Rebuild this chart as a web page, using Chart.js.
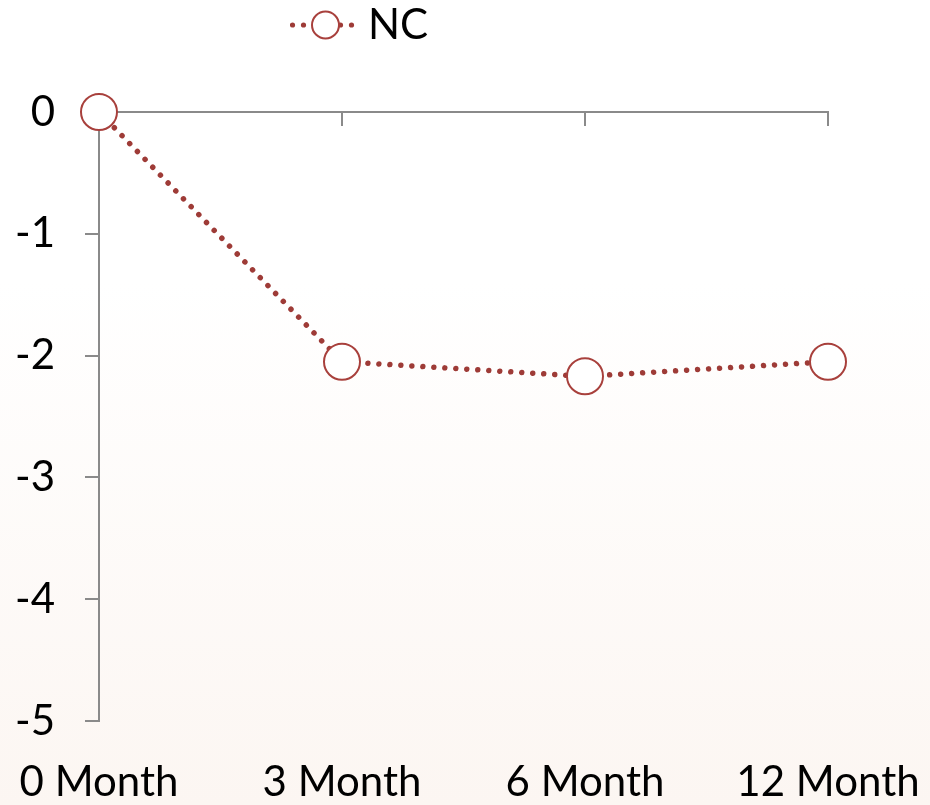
<!DOCTYPE html>
<html>
<head>
<meta charset="utf-8">
<script src="https://cdn.jsdelivr.net/npm/chart.js@4/dist/chart.umd.min.js"></script>
<style>
  html, body { margin: 0; padding: 0; background: #ffffff; }
  #wrap { width: 930px; height: 805px; position: relative; }
</style>
</head>
<body>
<div id="wrap"><canvas id="c" width="930" height="805"></canvas></div>
<script>
const categories = ['0 Month', '3 Month', '6 Month', '12 Month'];
const seriesName = 'NC';
const ncValues = [0, -2.05, -2.17, -2.05];
const yTicks = [0, -1, -2, -3, -4, -5];

const lineColor = '#9e3b37';
const markerColor = '#a8403c';
const axisColor = '#8a8a8a';

// legend symbol: dotted line with open circle
const legendImg = document.createElement('canvas');
legendImg.width = 66; legendImg.height = 32;
(function () {
  const g = legendImg.getContext('2d');
  g.fillStyle = lineColor;
  [2.5, 13.5, 50.5, 61.5].forEach(x => { g.beginPath(); g.arc(x, 16, 2.6, 0, Math.PI * 2); g.fill(); });
  g.beginPath(); g.arc(35.5, 16, 13.5, 0, Math.PI * 2);
  g.fillStyle = '#ffffff'; g.fill();
  g.lineWidth = 2; g.strokeStyle = markerColor; g.stroke();
})();

const bgPlugin = {
  id: 'bg',
  beforeDraw(chart) {
    const ctx = chart.ctx;
    const grd = ctx.createLinearGradient(0, 0, 0, chart.height);
    grd.addColorStop(0, '#ffffff');
    grd.addColorStop(0.35, '#ffffff');
    grd.addColorStop(1, '#fcf6f2');
    ctx.save();
    ctx.fillStyle = grd;
    ctx.fillRect(0, 0, chart.width, chart.height);
    ctx.restore();
  }
};

const legendPos = {
  id: 'legendPos',
  afterLayout(chart) {
    const lg = chart.legend;
    if (!lg) return;
    const h = lg.height;
    const lw = (lg.lineWidths && lg.lineWidths[0]) || lg.width;
    lg.left = 0; lg.right = 299 + lw;
    lg.top = 0; lg.bottom = h;
  }
};

Chart.defaults.font.family = 'Lato';
Chart.defaults.color = '#000000';

new Chart(document.getElementById('c'), {
  type: 'line',
  data: {
    labels: categories,
    datasets: [{
      label: seriesName,
      data: ncValues,
      xAxisID: 'x',
      borderColor: lineColor,
      borderWidth: 5.5,
      borderDash: [0.01, 11],
      borderCapStyle: 'round',
      pointRadius: 18,
      pointBorderWidth: 2,
      pointBorderColor: markerColor,
      pointBackgroundColor: '#ffffff',
      pointHoverRadius: 18,
      tension: 0,
      fill: false,
      clip: false
    }]
  },
  options: {
    responsive: false,
    animation: false,
    devicePixelRatio: 1,
    layout: { padding: { left: 0, right: 102, top: 56, bottom: 0 } },
    plugins: {
      legend: {
        position: 'top',
        align: 'end',
        labels: {
          font: { size: 42 },
          color: '#000',
          padding: 4,
          usePointStyle: true,
          pointStyleWidth: 48,
          generateLabels(chart) {
            const items = Chart.defaults.plugins.legend.labels.generateLabels(chart);
            return items.map(it => Object.assign(it, { pointStyle: legendImg }));
          }
        }
      },
      tooltip: { enabled: false }
    },
    scales: {
      x: {
        type: 'category',
        position: { y: 0 },
        offset: false,
        ticks: { display: false },
        grid: { drawOnChartArea: false, drawTicks: true, tickLength: 13, color: axisColor, lineWidth: 2 },
        border: { display: true, color: axisColor, width: 2 }
      },
      x2: {
        type: 'category',
        labels: categories,
        position: 'bottom',
        offset: false,
        grid: { display: false, drawTicks: false },
        border: { display: false },
        ticks: { font: { size: 42, lineHeight: 2.95 }, color: '#000', padding: 0, maxRotation: 0, autoSkip: false },
        afterFit(s) { s.height = 84; }
      },
      y: {
        type: 'linear',
        min: -5,
        max: 0,
        ticks: {
          stepSize: 1,
          font: { size: 42 },
          color: '#000',
          padding: 30,
          callback: v => (yTicks.includes(v) ? String(v) : '')
        },
        grid: { drawOnChartArea: false, drawTicks: true, tickLength: 14, color: axisColor, lineWidth: 2 },
        border: { display: true, color: axisColor, width: 2 },
        afterFit(s) { s.width = 99; }
      }
    }
  },
  plugins: [bgPlugin, legendPos]
});
</script>
</body>
</html>
